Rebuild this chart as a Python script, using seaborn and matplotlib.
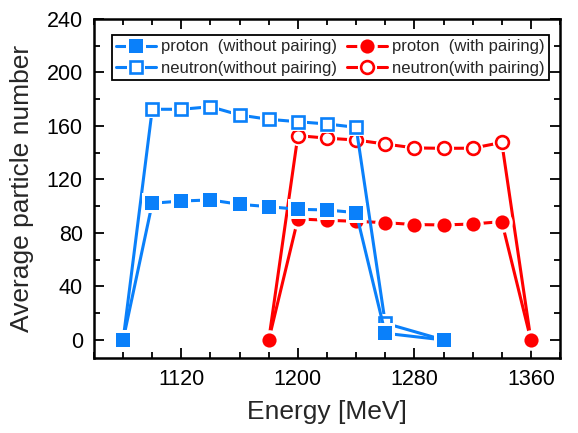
import matplotlib
matplotlib.use("Agg")
import matplotlib.pyplot as plt
import seaborn as sns
import pandas as pd
from matplotlib.lines import Line2D
from matplotlib.legend_handler import HandlerTuple
from matplotlib.ticker import MultipleLocator

sns.set_theme(style="ticks")
plt.rcParams["font.family"] = ["Liberation Sans", "DejaVu Sans"]

# Energies [MeV] and average particle numbers
energy_nopair = [1080, 1100, 1120, 1140, 1160, 1180, 1200, 1220, 1240, 1260, 1300]
proton_nopair = [0, 102.2, 103.9, 104.7, 101.4, 99.7, 97.7, 97.2, 95.2, 5, 0]
neutron_nopair = [0, 172.5, 172.5, 174.4, 168.2, 165.0, 163.2, 161.5, 159.0, 12.5, 0]

energy_pair = [1180, 1200, 1220, 1240, 1260, 1280, 1300, 1320, 1340, 1360]
proton_pair = [0, 90.5, 89.5, 88.7, 87.7, 86.3, 86.0, 86.7, 88.5, 0]
neutron_pair = [0, 152.8, 150.9, 149.5, 146.5, 143.6, 143.3, 143.4, 147.7, 0]

labels = ["proton  (without pairing)", "neutron(without pairing)",
          "proton  (with pairing)", "neutron(with pairing)"]

BLUE = "#0A80FA"
RED = "#FF0000"

frames = []
for lab, xs, ys in [(labels[0], energy_nopair, proton_nopair),
                    (labels[1], energy_nopair, neutron_nopair),
                    (labels[2], energy_pair, proton_pair),
                    (labels[3], energy_pair, neutron_pair)]:
    frames.append(pd.DataFrame({"energy": xs, "number": ys, "series": lab}))
df = pd.concat(frames, ignore_index=True)

styles = {
    labels[0]: dict(color=BLUE, marker="s", ms=9.4, mfc=BLUE, mew=0),
    labels[1]: dict(color=BLUE, marker="s", ms=8.4, mfc="white", mew=1.9),
    labels[2]: dict(color=RED, marker="o", ms=10.2, mfc=RED, mew=0),
    labels[3]: dict(color=RED, marker="o", ms=9.2, mfc="white", mew=1.9),
}

fig = plt.figure(figsize=(5.78, 4.33), dpi=100)
ax = fig.add_axes([0.1626, 0.1732, 0.8063, 0.7829])

LW = 2.2
HALO = 4.6
# draw order: red series first, blue on top
for lab in [labels[3], labels[2], labels[1], labels[0]]:
    st = styles[lab]
    sub = df[df["series"] == lab]
    sns.lineplot(data=sub, x="energy", y="number", sort=False, ax=ax,
                 color=st["color"], lw=LW, legend=False, estimator=None)
    # white ring that opens a gap between the line and the symbol
    ax.plot(sub["energy"], sub["number"], ls="none", marker=st["marker"],
            ms=st["ms"] + HALO, mfc="white", mec="white", mew=0)
    ax.plot(sub["energy"], sub["number"], ls="none", marker=st["marker"],
            ms=st["ms"], mfc=st["mfc"], mec=st["color"], mew=st["mew"])

ax.set_xlim(1060, 1380)
ax.set_ylim(-13.5, 240)
ax.xaxis.set_major_locator(MultipleLocator(80))
ax.xaxis.set_minor_locator(MultipleLocator(20))
ax.yaxis.set_major_locator(MultipleLocator(40))
ax.yaxis.set_minor_locator(MultipleLocator(20))
ax.tick_params(which="both", direction="in", top=True, right=True,
               width=1.3, colors="black", labelsize=15.5, pad=8)
ax.tick_params(which="major", length=7)
ax.tick_params(which="minor", length=4.5)
for sp in ax.spines.values():
    sp.set_linewidth(1.8)
    sp.set_color("black")

ax.set_xlabel("Energy [MeV]", fontsize=19, labelpad=7)
ax.set_ylabel("Average particle number", fontsize=19, labelpad=9)


def handle(lab):
    st = styles[lab]
    line = Line2D([], [], color=st["color"], lw=LW)
    halo = Line2D([], [], ls="none", marker=st["marker"], ms=st["ms"] + HALO,
                  mfc="white", mec="white", mew=0)
    mark = Line2D([], [], ls="none", marker=st["marker"], ms=st["ms"],
                  mfc=st["mfc"], mec=st["color"], mew=st["mew"])
    return (line, halo, mark)


handles = [handle(l) for l in labels]
leg = ax.legend(handles, labels, ncol=2, loc="upper left",
                bbox_to_anchor=(0.0386, 0.952), borderaxespad=0,
                handler_map={tuple: HandlerTuple(ndivide=1, pad=0)},
                fontsize=12, handlelength=2.4, handletextpad=0.3,
                columnspacing=0.6, labelspacing=0.38, borderpad=0.25,
                frameon=True, fancybox=False, framealpha=1, edgecolor="black")
leg.get_frame().set_linewidth(1.3)

fig.savefig("out.png", dpi=100)
